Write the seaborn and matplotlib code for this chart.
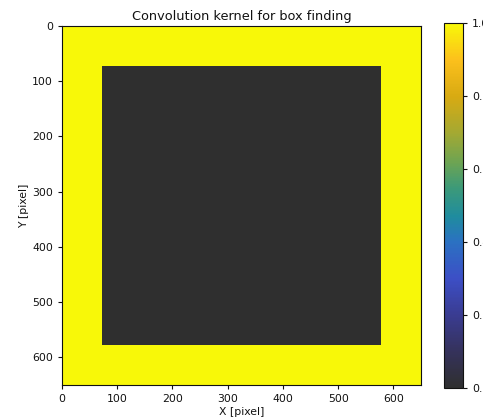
import numpy as np
import matplotlib
matplotlib.use("Agg")
import matplotlib.pyplot as plt
from matplotlib.colors import LinearSegmentedColormap
import seaborn as sns

# Data: box-finding convolution kernel
kernel_size = 650
box_margin = 72
outer_value = 1.0
inner_value = 0.0
x_ticks = [0, 100, 200, 300, 400, 500, 600]
y_ticks = [0, 100, 200, 300, 400, 500, 600]
cbar_ticks = [0.0, 0.2, 0.4, 0.6, 0.8, 1.0]

kernel = np.full((kernel_size, kernel_size), outer_value)
kernel[box_margin:kernel_size - box_margin, box_margin:kernel_size - box_margin] = inner_value

cmap_colors = [
    (0.00, "#2f2f2f"),
    (0.10, "#35325c"),
    (0.20, "#3a3c92"),
    (0.30, "#3c4fc6"),
    (0.40, "#2b71c2"),
    (0.47, "#1f8c9e"),
    (0.55, "#3d9a78"),
    (0.62, "#6ea452"),
    (0.70, "#a4a932"),
    (0.80, "#d8aa12"),
    (0.90, "#fcc01c"),
    (1.00, "#f8f808"),
]
cmap = LinearSegmentedColormap.from_list("boxcmap", cmap_colors)

sns.set_style("ticks")
plt.rcParams["font.family"] = ["DejaVu Sans"]
plt.rcParams["text.color"] = "#111111"
plt.rcParams["axes.labelcolor"] = "#111111"

fig = plt.figure(figsize=(4.83, 4.20), dpi=100)
ax = fig.add_axes([62 / 483, 1 - 385 / 420, 359 / 483, 359 / 420])
cax = fig.add_axes([444 / 483, 1 - 388 / 420, 19 / 483, 365 / 420])

sns.heatmap(kernel, ax=ax, cbar_ax=cax, cmap=cmap, vmin=0, vmax=1,
            xticklabels=False, yticklabels=False, square=False,
            rasterized=True)

ax.set_xticks(x_ticks)
ax.set_xticklabels([str(t) for t in x_ticks], rotation=0)
ax.set_yticks(y_ticks)
ax.set_yticklabels([str(t) for t in y_ticks], rotation=0)
ax.tick_params(axis="both", labelsize=7.8, length=3, width=0.8, colors="#111111",
               bottom=True, left=True)
for s in ax.spines.values():
    s.set_visible(True)
    s.set_linewidth(0.8)
    s.set_color("#111111")

ax.set_title("Convolution kernel for box finding", fontsize=9.3, pad=4, color="#111111")
ax.set_xlabel("X [pixel]", fontsize=7.8, labelpad=2)
ax.set_ylabel("Y [pixel]", fontsize=7.8, labelpad=2)

cbar = ax.collections[0].colorbar
cbar.set_ticks(cbar_ticks)
cbar.set_ticklabels([f"{t:.1f}" for t in cbar_ticks])
cbar.ax.tick_params(labelsize=7.8, length=3, width=0.8, colors="#111111")
cbar.outline.set_visible(True)
cbar.outline.set_linewidth(0.8)
cbar.outline.set_edgecolor("#111111")

fig.savefig("out.png", dpi=100)
